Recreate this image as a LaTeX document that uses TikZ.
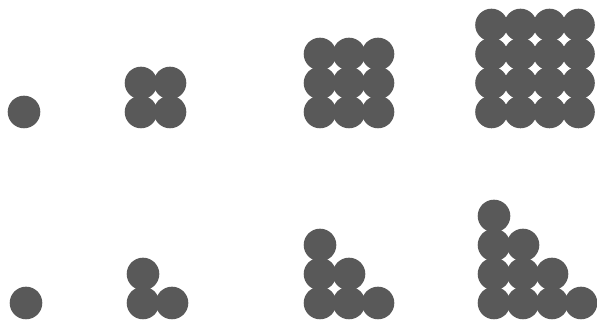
\documentclass[tikz,border=0pt]{standalone}
\usepackage{tikz}
\tikzset{bead/.style={fill=black!65}}
\begin{document}
\begin{tikzpicture}[x=1pt,y=1pt]
  \useasboundingbox (0,0) rectangle (597,320);
  % square numbers
  \foreach \n/\x in {1/24,2/141,3/320,4/491.5}
    \foreach \i in {1,...,\n}
      \foreach \j in {1,...,\n}
        \fill[bead] ({\x+29*(\i-1)},{208+29*(\j-1)}) circle (16.3);
  % triangular numbers
  \foreach \n/\x in {1/26,2/143,3/320,4/494}
    \foreach \i in {1,...,\n}
      \foreach \j in {\i,...,\n}
        \fill[bead] ({\x+29*(\i-1)},{17+29*(\j-\i)}) circle (16.3);
\end{tikzpicture}
\end{document}
